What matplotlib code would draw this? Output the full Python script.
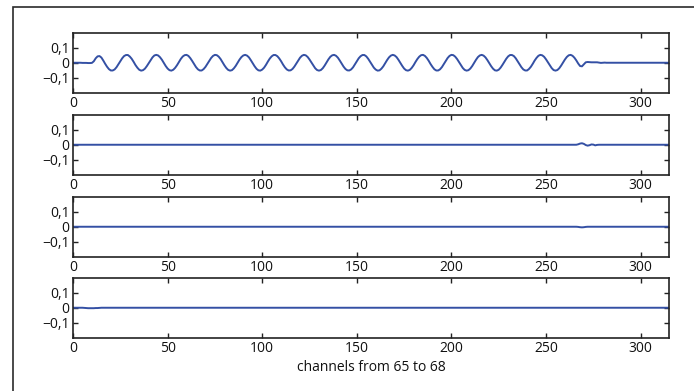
import matplotlib
matplotlib.use('Agg')
import matplotlib.pyplot as plt
from matplotlib.patches import Rectangle
import numpy as np

plt.rcParams['font.family'] = ['Open Sans', 'DejaVu Sans']

N_CH = 316
LINE_COLOR = '#3450a4'

# channel 65 (values in units of 1e-3)
trace1 = np.array([
    0, 0, 0, 0, 0, -1, -1, -1, -2, -2,               # 0
    -1, 10, 30, 43, 45, 35, 15, -7, -27, -43,        # 10
    -52, -52, -45, -30, -10, 11, 30, 45, 52, 52,     # 20
    42, 27, 7, -15, -33, -47, -53, -50, -40, -23,    # 30
    -3, 18, 36, 49, 53, 49, 37, 20, -1, -22,         # 40
    -39, -50, -53, -47, -34, -16, 5, 26, 42, 51,     # 50
    53, 46, 31, 12, -9, -29, -44, -52, -52, -43,     # 60
    -28, -8, 13, 32, 46, 53, 51, 41, 25, 4,          # 70
    -17, -35, -48, -53, -50, -38, -21, 0, 21, 38,    # 80
    49, 53, 48, 36, 17, -4, -24, -41, -51, -53,      # 90
    -46, -33, -14, 8, 28, 43, 52, 52, 44, 29,        # 100
    10, -12, -31, -45, -52, -51, -42, -26, -6, 15,   # 110
    34, 47, 53, 50, 39, 22, 2, -19, -37, -49,        # 120
    -53, -49, -37, -19, 2, 23, 40, 50, 53, 47,       # 130
    34, 15, -6, -26, -42, -51, -52, -45, -31, -11,   # 140
    10, 30, 44, 52, 52, 43, 27, 7, -14, -33,         # 150
    -46, -53, -51, -40, -24, -3, 18, 36, 48, 53,     # 160
    49, 38, 20, -1, -21, -39, -50, -53, -48, -35,    # 170
    -17, 5, 25, 41, 51, 53, 46, 32, 13, -9,          # 180
    -28, -44, -52, -52, -44, -29, -9, 12, 32, 46,    # 190
    53, 51, 41, 25, 5, -16, -35, -48, -53, -50,      # 200
    -39, -22, -1, 20, 38, 49, 53, 48, 36, 18,        # 210
    -3, -23, -40, -51, -53, -47, -33, -14, 7, 27,    # 220
    43, 52, 52, 45, 30, 10, -11, -30, -45, -52,      # 230
    -52, -42, -27, -7, 15, 33, 47, 53, 50, 40,       # 240
    23, 3, -18, -36, -49, -53, -49, -37, -19, 1,     # 250
    22, 39, 50, 53, 47, 34, 16, -5, -22, -24,        # 260
    -10, 3, 5, 4, 3, 3, 3, 3, 1, -1,                 # 270
    0, 1,                                            # 280
] + [0] * 34) / 1000

# channels 66-68: flat except for small glitches
trace2 = np.zeros(N_CH)
trace2[266:279] = np.array([0, 3, 8, 10, 6, -2, -6, -3, 2, 1, -4, -1, 0]) / 1000

trace3 = np.zeros(N_CH)
trace3[266:273] = np.array([0, -1, -3, -4, -3, -1, 0]) / 1000

trace4 = np.zeros(N_CH)
trace4[5:16] = np.array([0, -1, -2, -3, -3, -3, -3, -2, -2, -1, 0]) / 1000

traces = [trace1, trace2, trace3, trace4]

x_ticks = [0, 50, 100, 150, 200, 250, 300]
y_ticks = [-0.1, 0, 0.1]
y_ticklabels = ['\u22120,1', '0', '0,1']

fig = plt.figure(figsize=(6.94, 3.91), dpi=100)

# outer frame
fig.patches.append(Rectangle((12.5 / 694, -0.1), 1.0, 1.1 - 6.5 / 391,
                             transform=fig.transFigure, fill=False,
                             edgecolor='#2a2a2a', linewidth=1.2))

left, width, height = 73 / 694, 596 / 694, 59.5 / 391
bottoms = [298.5 / 391, 216.5 / 391, 134.5 / 391, 53.5 / 391]

for trace, bottom in zip(traces, bottoms):
    ax = fig.add_axes([left, bottom, width, height])
    ax.plot(np.arange(len(trace)), trace, color=LINE_COLOR, linewidth=1.4)
    ax.set_xlim(0, 315)
    ax.set_ylim(-0.2, 0.2)
    ax.set_xticks(x_ticks)
    ax.set_yticks(y_ticks)
    ax.set_yticklabels(y_ticklabels)
    ax.tick_params(direction='in', top=True, right=True, length=3.5,
                   width=1.0, labelsize=10, pad=2.5, color='#222222',
                   labelcolor='#111111')
    for s in ax.spines.values():
        s.set_linewidth(1.2)
        s.set_color('#222222')

ax.set_xlabel('channels from 65 to 68', fontsize=10, labelpad=3,
              color='#111111')

plt.savefig('out.png', dpi=100)
